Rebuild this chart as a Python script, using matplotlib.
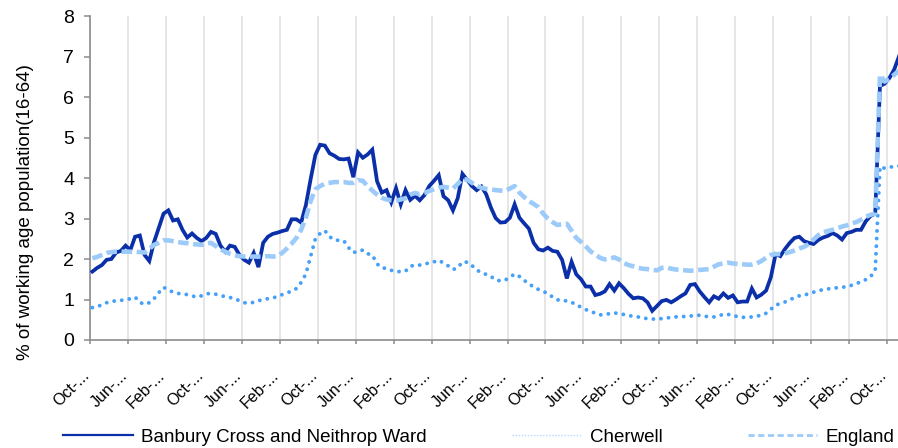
import numpy as np
import matplotlib
matplotlib.use("Agg")
import matplotlib.pyplot as plt
from matplotlib.lines import Line2D

plt.rcParams['font.family'] = ['Liberation Sans', 'DejaVu Sans']

# ---------------- data (monthly values, % of working age population 16-64) -------------
banbury = [
    1.69, 1.78, 1.85, 1.98, 2.00, 2.16, 2.20, 2.33, 2.22, 2.55,
    2.58, 2.10, 1.95, 2.42, 2.77, 3.12, 3.20, 2.95, 2.98, 2.72,
    2.53, 2.63, 2.52, 2.44, 2.52, 2.67, 2.62, 2.33, 2.18, 2.33,
    2.30, 2.10, 1.98, 1.91, 2.15, 1.80, 2.40, 2.55, 2.62, 2.65,
    2.69, 2.72, 2.98, 2.98, 2.90, 3.33, 3.97, 4.57, 4.82, 4.80,
    4.61, 4.55, 4.47, 4.46, 4.48, 4.02, 4.63, 4.50, 4.58, 4.70,
    3.92, 3.64, 3.70, 3.40, 3.75, 3.35, 3.70, 3.46, 3.56, 3.45,
    3.58, 3.80, 3.93, 4.07, 3.55, 3.45, 3.20, 3.50, 4.10, 3.95,
    3.80, 3.70, 3.79, 3.60, 3.27, 3.01, 2.90, 2.91, 3.02, 3.35,
    3.02, 2.88, 2.75, 2.40, 2.24, 2.21, 2.28, 2.20, 2.18, 1.98,
    1.52, 1.93, 1.62, 1.50, 1.32, 1.32, 1.11, 1.14, 1.20, 1.38,
    1.22, 1.40, 1.28, 1.14, 1.03, 1.05, 1.03, 0.93, 0.72, 0.84,
    0.96, 0.99, 0.93, 1.00, 1.08, 1.15, 1.36, 1.38, 1.20, 1.06,
    0.93, 1.08, 1.02, 1.15, 1.04, 1.10, 0.93, 0.95, 0.95, 1.27,
    1.05, 1.12, 1.22, 1.55, 2.12, 2.07, 2.25, 2.40, 2.52, 2.55,
    2.44, 2.40, 2.37, 2.47, 2.53, 2.57, 2.64, 2.58, 2.48, 2.64,
    2.67, 2.72, 2.72, 2.93, 3.06, 3.12, 6.27, 6.33, 6.47, 6.68,
    7.00,
]

cherwell = [
    0.80, 0.82, 0.87, 0.92, 0.95, 0.97, 0.98, 0.99, 1.02, 1.06,
    0.93, 0.88, 0.92, 1.02, 1.17, 1.30, 1.24, 1.18, 1.15, 1.14,
    1.12, 1.09, 1.06, 1.09, 1.14, 1.15, 1.13, 1.10, 1.07, 1.05,
    1.02, 0.97, 0.92, 0.91, 0.93, 0.97, 1.00, 1.02, 1.04, 1.07,
    1.12, 1.16, 1.21, 1.27, 1.42, 1.63, 2.06, 2.50, 2.63, 2.70,
    2.55, 2.47, 2.46, 2.45, 2.28, 2.16, 2.19, 2.22, 2.13, 2.10,
    1.88, 1.78, 1.77, 1.72, 1.69, 1.69, 1.70, 1.82, 1.85, 1.85,
    1.88, 1.90, 1.93, 1.97, 1.90, 1.83, 1.74, 1.78, 1.93, 1.92,
    1.84, 1.73, 1.66, 1.62, 1.57, 1.48, 1.46, 1.48, 1.55, 1.63,
    1.57, 1.47, 1.40, 1.30, 1.25, 1.20, 1.15, 1.06, 0.99, 0.99,
    0.96, 0.93, 0.87, 0.81, 0.75, 0.71, 0.66, 0.62, 0.63, 0.65,
    0.67, 0.65, 0.63, 0.60, 0.59, 0.57, 0.54, 0.53, 0.52, 0.51,
    0.53, 0.54, 0.56, 0.57, 0.58, 0.58, 0.59, 0.61, 0.61, 0.59,
    0.57, 0.57, 0.59, 0.64, 0.63, 0.62, 0.57, 0.56, 0.56, 0.57,
    0.59, 0.61, 0.66, 0.76, 0.86, 0.90, 0.94, 0.99, 1.05, 1.09,
    1.11, 1.14, 1.18, 1.22, 1.24, 1.26, 1.28, 1.29, 1.30, 1.32,
    1.35, 1.39, 1.44, 1.49, 1.56, 1.72, 4.28, 4.24, 4.27, 4.28,
    4.30,
]

england = [
    2.02, 2.05, 2.10, 2.15, 2.17, 2.18, 2.18, 2.18, 2.18, 2.18,
    2.17, 2.16, 2.25, 2.35, 2.40, 2.46, 2.46, 2.44, 2.42, 2.40,
    2.39, 2.37, 2.36, 2.35, 2.38, 2.40, 2.32, 2.24, 2.18, 2.13,
    2.09, 2.07, 2.06, 2.06, 2.06, 2.06, 2.06, 2.07, 2.06, 2.07,
    2.15, 2.26, 2.38, 2.52, 2.72, 3.02, 3.43, 3.72, 3.80, 3.86,
    3.88, 3.90, 3.90, 3.90, 3.88, 3.88, 3.95, 3.93, 3.80, 3.69,
    3.59, 3.51, 3.47, 3.45, 3.44, 3.47, 3.50, 3.59, 3.63, 3.60,
    3.63, 3.68, 3.72, 3.76, 3.78, 3.76, 3.74, 3.85, 3.98, 3.96,
    3.88, 3.80, 3.76, 3.73, 3.72, 3.70, 3.69, 3.68, 3.74, 3.80,
    3.64, 3.53, 3.43, 3.36, 3.28, 3.12, 3.00, 2.91, 2.84, 2.86,
    2.87, 2.70, 2.52, 2.42, 2.31, 2.19, 2.11, 2.03, 1.99, 2.01,
    2.04, 1.99, 1.90, 1.85, 1.82, 1.78, 1.76, 1.75, 1.73, 1.72,
    1.78, 1.79, 1.76, 1.74, 1.73, 1.72, 1.71, 1.72, 1.73, 1.74,
    1.75, 1.81, 1.87, 1.89, 1.91, 1.89, 1.88, 1.87, 1.86, 1.86,
    1.89, 1.95, 2.03, 2.10, 2.12, 2.12, 2.14, 2.17, 2.21, 2.26,
    2.30, 2.37, 2.48, 2.59, 2.66, 2.69, 2.72, 2.76, 2.80, 2.83,
    2.88, 2.91, 2.97, 3.04, 3.09, 3.12, 6.55, 6.38, 6.45, 6.55,
    6.65,
]

tick_labels = ["Oct-...", "Jun-...", "Feb-..."] * 7 + ["Oct-..."]
series_names = ["Banbury Cross and Neithrop Ward", "Cherwell", "England"]
y_label = "% of working age population(16-64)"

# ---------------- figure -------------
W, H = 898, 448
fig = plt.figure(figsize=(W / 100, H / 100), dpi=100)
ax = fig.add_axes([90 / W, 1 - 340 / H, 808 / W, 324 / H])

c_ban = '#0a2fa8'
c_che = '#45a0f8'
c_eng = '#9ccbfa'

xb = np.arange(len(banbury)) + 0.5
xc = np.arange(len(cherwell)) + 0.5
xe = np.arange(len(england)) + 0.5

ax.plot(xb, banbury, color=c_ban, lw=2.7, solid_joinstyle='miter', zorder=3)
ax.plot(xc, cherwell, color=c_che, lw=2.8, ls=(0, (0.01, 1.95)),
        dash_capstyle='round', zorder=4)
ax.plot(xe, england, color=c_eng, lw=3.3, ls=(0, (2.3, 1.0)),
        dash_capstyle='butt', zorder=5)

ax.set_xlim(0, 170.3)
ax.set_ylim(0, 8)

tick_pos = np.arange(len(tick_labels)) * 8
ax.set_xticks(tick_pos)
ax.set_xticklabels(tick_labels, fontsize=11.5)
for lab in ax.get_xticklabels():
    lab.set_rotation(45)
    lab.set_ha('right')
    lab.set_va('baseline')
    lab.set_rotation_mode('anchor')

ax.set_yticks(range(0, 9))
ax.tick_params(axis='y', labelsize=14, length=4.5, width=1.1, color='#8c8c8c',
               direction='out', pad=7)
ax.tick_params(axis='x', length=3, width=1.1, color='#8c8c8c', direction='out',
               pad=23)

ax.grid(axis='x', color='#e6e6e6', lw=1.4, zorder=0)
ax.set_axisbelow(True)

for s in ['top', 'right']:
    ax.spines[s].set_visible(False)
for s in ['left', 'bottom']:
    ax.spines[s].set_color('#8c8c8c')
    ax.spines[s].set_linewidth(1.2)

ax.set_ylabel(y_label, fontsize=13.5)
ax.yaxis.set_label_coords((34 - 90) / 808, (340 - 212) / 324)

handles = [
    Line2D([], [], color=c_ban, lw=1.6),
    Line2D([], [], color='#b5d8fb', lw=1.0, ls=(0, (1, 1.2))),
    Line2D([], [], color=c_eng, lw=2.0, ls=(0, (2.2, 1.3))),
]
fig.legend(handles, series_names, loc='center',
           bbox_to_anchor=(479 / W, 1 - 437 / H), ncol=3, frameon=False,
           fontsize=13.5, handlelength=3.7, handletextpad=0.45,
           columnspacing=4.55, borderpad=0, borderaxespad=0)

fig.savefig("out.png", dpi=100)
